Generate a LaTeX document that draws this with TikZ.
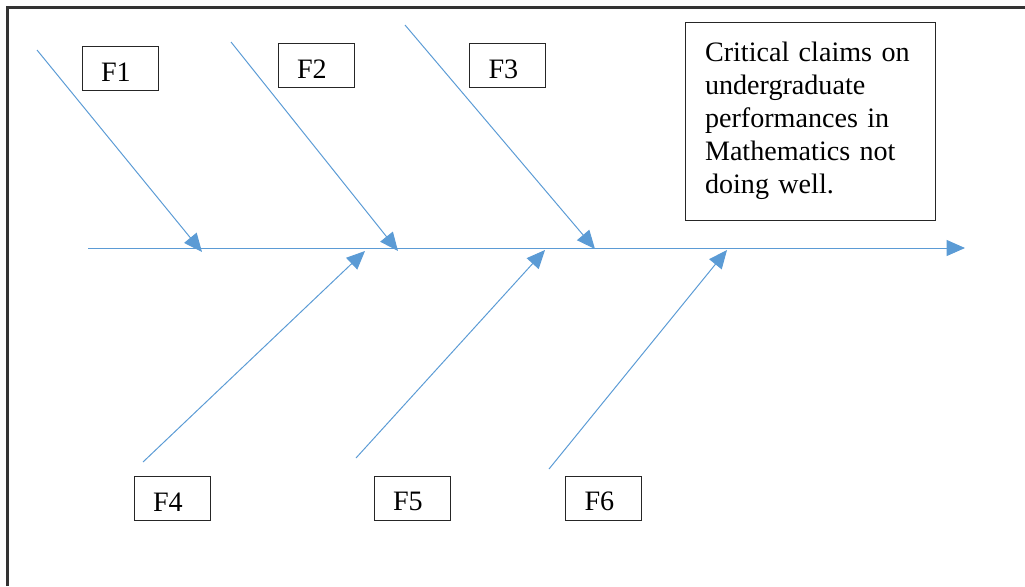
\documentclass[tikz,border=0pt]{standalone}
\usepackage{fontspec}
\setmainfont{Liberation Serif}
\usetikzlibrary{arrows.meta}
\definecolor{boneblue}{RGB}{91,155,213}

\begin{document}
\begin{tikzpicture}[x=0.25mm,y=-0.25mm,font=\fontsize{20}{23.4}\selectfont,
  bone/.style={draw=boneblue,line width=0.7pt,-{Triangle[length=4.6mm,width=4mm]}},
  fbox/.style={draw=black!85,line width=0.7pt,minimum height=11mm,inner xsep=4.75mm,text width=9.5mm,text height=6.5mm,align=left}]
\useasboundingbox (0,0) rectangle (1025,586);
% frame
\draw[line width=1.8pt,black!80] (7.5,586) -- (7.5,7.5) -- (1025,7.5);
% spine
\coordinate (tail) at (88,248);
\coordinate (head) at (965,248);
\draw[bone] (tail) -- (head);
% bones
\foreach \n/\sx/\sy/\ex/\ey in {1/37/50/202/252,2/231/42/398/251,3/405/25/595/249,
  4/143/462/365/251,5/356/458/545/250,6/549/469/727/250} {
  \coordinate (s\n) at (\sx,\sy);
  \coordinate (e\n) at (\ex,\ey);
  \draw[bone] (s\n) -- (e\n);
}
% factor labels
\foreach \n/\x/\y in {1/120/68.5,2/316/65,3/507.5/65.5,4/172/498,5/412/498,6/603.5/498}
  \node[fbox] (f\n) at (\x,\y) {F\n};
% effect
\node[draw=black!85,line width=0.7pt,minimum width=62.5mm,minimum height=49.5mm,text width=52.5mm,
  align=left,inner sep=0pt] (effect) at (810,121)
  {Critical claims on\\undergraduate\\performances in\\Mathematics not\\doing well.};
\end{tikzpicture}
\end{document}
